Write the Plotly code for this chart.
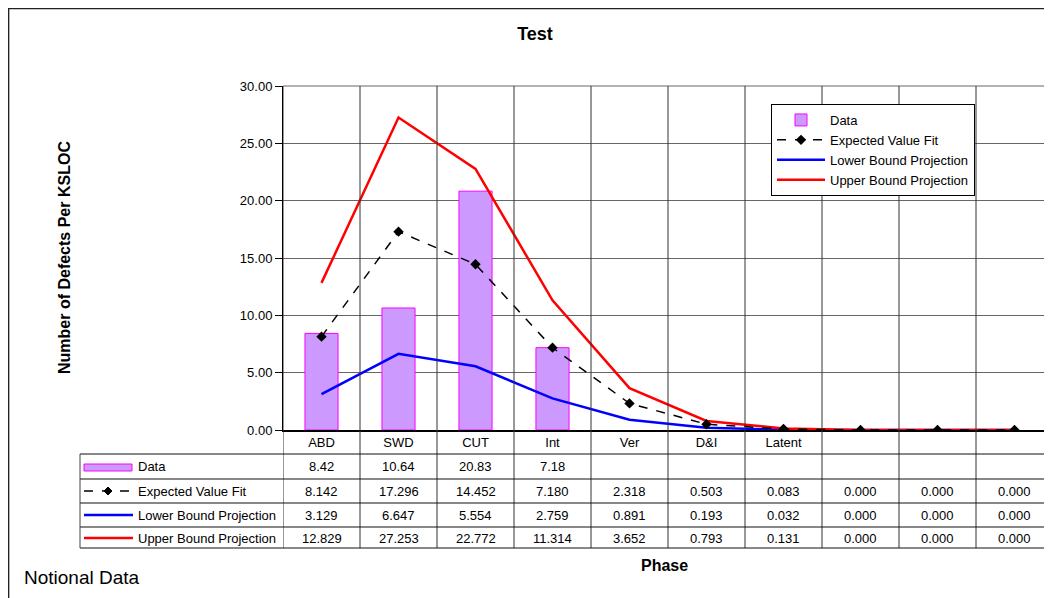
import plotly.graph_objects as go

# ---------------- data ----------------
categories = ["ABD", "SWD", "CUT", "Int", "Ver", "D&I", "Latent", "", "", ""]
data_vals = [8.42, 10.64, 20.83, 7.18, None, None, None, None, None, None]
expected_fit = [8.142, 17.296, 14.452, 7.180, 2.318, 0.503, 0.083, 0.000, 0.000, 0.000]
lower_bound = [3.129, 6.647, 5.554, 2.759, 0.891, 0.193, 0.032, 0.000, 0.000, 0.000]
upper_bound = [12.829, 27.253, 22.772, 11.314, 3.652, 0.793, 0.131, 0.000, 0.000, 0.000]
y_ticks = [0, 5, 10, 15, 20, 25, 30]

# ---------------- page geometry helpers ----------------
PAGE_W, PAGE_H = 1052, 598
OFF = 8  # default page body margin around the plot div
W, H = PAGE_W - OFF, PAGE_H - OFF
FONT = "Arial, Liberation Sans, sans-serif"


def px(x):
    """page pixel x -> paper coordinate"""
    return (x - OFF) / W


def py(y):
    """page pixel y -> paper coordinate"""
    return 1 - (y - OFF) / H


PLOT_L, PLOT_T, PLOT_B = 283, 86, 430
COL_W = 77
xs = list(range(len(categories)))
x_right = -0.5 + (PAGE_W - PLOT_L) / COL_W

BAR_FILL = "#CC99FF"
BAR_LINE = "#FF00FF"
RED = "#FF0000"
BLUE = "#0000FF"

fig = go.Figure()

fig.add_trace(go.Bar(
    x=xs, y=data_vals, name="Data", width=0.43,
    marker=dict(color=BAR_FILL, line=dict(color=BAR_LINE, width=1)),
    legendrank=1,
))
fig.add_trace(go.Scatter(
    x=xs, y=lower_bound, name="Lower Bound Projection", mode="lines",
    line=dict(color=BLUE, width=2.5), legendrank=3,
))
fig.add_trace(go.Scatter(
    x=xs, y=upper_bound, name="Upper Bound Projection", mode="lines",
    line=dict(color=RED, width=2.5), legendrank=4,
))
fig.add_trace(go.Scatter(
    x=xs, y=expected_fit, name="Expected Value Fit", mode="lines+markers",
    line=dict(color="black", width=1.5, dash="dash"),
    marker=dict(symbol="diamond", size=8, color="black"), legendrank=2,
))

shapes = []
annotations = []

# outer chart border (left and top edges visible)
shapes.append(dict(type="line", xref="paper", yref="paper",
                   x0=0.6 / W, x1=0.6 / W, y0=0, y1=1,
                   line=dict(color="#222", width=1.5)))
shapes.append(dict(type="line", xref="paper", yref="paper",
                   x0=0, x1=1, y0=1 - 0.6 / H, y1=1 - 0.6 / H,
                   line=dict(color="#222", width=1.5)))

# top border of plot area
shapes.append(dict(type="line", xref="paper", yref="paper",
                   x0=px(PLOT_L), x1=1, y0=py(PLOT_T), y1=py(PLOT_T),
                   line=dict(color="#666", width=1)))

# vertical gridlines at category boundaries, running through the data table
TABLE_T, TABLE_B = 454, 548
for i in range(len(categories)):
    shapes.append(dict(type="line", xref="x", yref="paper",
                       x0=i - 0.5, x1=i - 0.5, y0=py(TABLE_B), y1=py(PLOT_T),
                       line=dict(color="#333", width=1)))

# data table horizontal lines
row_lines = [454, 479, 503, 527, 548]
for yy in row_lines:
    shapes.append(dict(type="line", xref="paper", yref="paper",
                       x0=px(80), x1=1, y0=py(yy), y1=py(yy),
                       line=dict(color="#111", width=1)))
shapes.append(dict(type="line", xref="paper", yref="paper",
                   x0=px(80), x1=px(80), y0=py(TABLE_B), y1=py(TABLE_T),
                   line=dict(color="#444", width=1)))

row_centers = [467, 491, 515, 538]
row_names = ["Data", "Expected Value Fit", "Lower Bound Projection", "Upper Bound Projection"]

# row legend keys
shapes.append(dict(type="rect", xref="paper", yref="paper",
                   x0=px(84), x1=px(132), y0=py(471), y1=py(464),
                   fillcolor=BAR_FILL, line=dict(color=BAR_LINE, width=1)))
shapes.append(dict(type="line", xref="paper", yref="paper",
                   x0=px(84), x1=px(132), y0=py(491), y1=py(491),
                   line=dict(color="black", width=1.5, dash="dash")))
dx, dy = 4, 4
shapes.append(dict(type="path", xref="paper", yref="paper",
                   path=(f"M {px(108 - dx)},{py(491)} L {px(108)},{py(491 - dy)} "
                         f"L {px(108 + dx)},{py(491)} L {px(108)},{py(491 + dy)} Z"),
                   fillcolor="black", line=dict(color="black", width=1)))
shapes.append(dict(type="line", xref="paper", yref="paper",
                   x0=px(84), x1=px(133), y0=py(515), y1=py(515),
                   line=dict(color=BLUE, width=2.5)))
shapes.append(dict(type="line", xref="paper", yref="paper",
                   x0=px(84), x1=px(133), y0=py(538), y1=py(538),
                   line=dict(color=RED, width=2.5)))

for name, yc in zip(row_names, row_centers):
    annotations.append(dict(text=name, xref="paper", yref="paper",
                            x=px(136), y=py(yc), xanchor="left", yanchor="middle",
                            showarrow=False, font=dict(size=13, color="black", family=FONT)))

# table cell values
table_rows = [
    (data_vals, "{:.2f}"),
    (expected_fit, "{:.3f}"),
    (lower_bound, "{:.3f}"),
    (upper_bound, "{:.3f}"),
]
for (vals, fmt), yc in zip(table_rows, row_centers):
    for i, v in enumerate(vals):
        if v is None:
            continue
        annotations.append(dict(text=fmt.format(v), xref="x", yref="paper",
                                x=i, y=py(yc), xanchor="center", yanchor="middle",
                                showarrow=False,
                                font=dict(size=13, color="black", family=FONT)))

# axis titles and note
annotations.append(dict(text="<b>Number of Defects Per KSLOC</b>", textangle=-90,
                        xref="paper", yref="paper", x=px(64), y=py(258),
                        xanchor="center", yanchor="middle", showarrow=False,
                        font=dict(size=16, color="black", family=FONT)))
annotations.append(dict(text="<b>Phase</b>", xref="paper", yref="paper",
                        x=px(664), y=py(565), xanchor="center", yanchor="middle",
                        showarrow=False, font=dict(size=16, color="black", family=FONT)))
annotations.append(dict(text="Notional Data", xref="paper", yref="paper",
                        x=px(22), y=py(577), xanchor="left", yanchor="middle",
                        showarrow=False, font=dict(size=19, color="black", family=FONT)))

fig.update_layout(
    width=W, height=H,
    margin=dict(l=0, r=0, t=0, b=0),
    paper_bgcolor="white", plot_bgcolor="white",
    font=dict(family=FONT, size=13, color="black"),
    title=dict(text="<b>Test</b>", x=px(535), y=py(34), xanchor="center",
               yanchor="middle", font=dict(size=18, color="black", family=FONT)),
    showlegend=True,
    legend=dict(x=px(771), y=py(104), xanchor="left", yanchor="top",
                bgcolor="white", bordercolor="black", borderwidth=1,
                font=dict(size=13, color="black", family=FONT),
                itemwidth=48, tracegroupgap=0),
    bargap=0.57,
    shapes=shapes,
    annotations=annotations,
    xaxis=dict(domain=[px(PLOT_L), 1], range=[-0.5, x_right],
               tickmode="array", tickvals=xs, ticktext=categories,
               showgrid=False, zeroline=False, showline=True,
               linecolor="black", linewidth=1.5, ticks="", automargin=False,
               tickfont=dict(size=13, color="black", family=FONT), fixedrange=True),
    yaxis=dict(domain=[py(PLOT_B), py(PLOT_T)], range=[0, 30],
               tickmode="array", tickvals=y_ticks,
               ticktext=[f"{v:.2f}" for v in y_ticks],
               showgrid=True, gridcolor="#666", gridwidth=1,
               zeroline=False, showline=True, linecolor="black", linewidth=1,
               ticks="outside", ticklen=7, tickcolor="black",
               automargin=False,
               tickfont=dict(size=13, color="black", family=FONT), fixedrange=True),
)

fig.write_html("out.html")
